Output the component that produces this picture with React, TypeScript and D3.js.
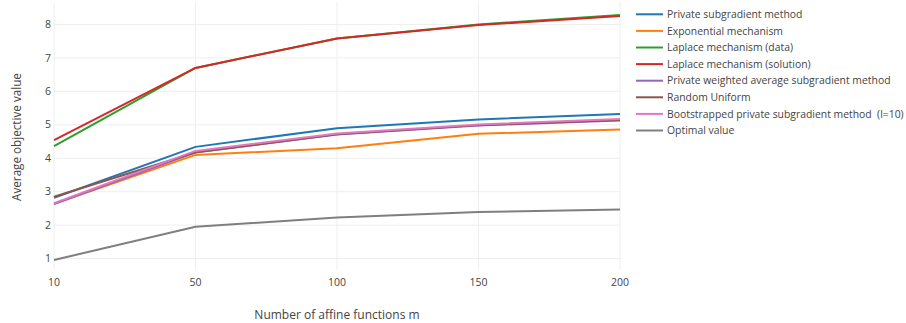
import React, { useEffect, useRef } from "react";
import * as d3 from "d3";

const categories = ["10", "50", "100", "150", "200"];
const seriesNames = [
  "Private subgradient method",
  "Exponential mechanism",
  "Laplace mechanism (data)",
  "Laplace mechanism (solution)",
  "Private weighted average subgradient method",
  "Random Uniform",
  "Bootstrapped private subgradient method  (l=10)",
  "Optimal value",
];
const privateSubgradient = [2.82, 4.34, 4.9, 5.16, 5.32];
const exponential = [2.64, 4.1, 4.3, 4.73, 4.86];
const laplaceData = [4.36, 6.7, 7.58, 8.0, 8.28];
const laplaceSolution = [4.54, 6.7, 7.58, 7.98, 8.25];
const weightedAverage = [2.63, 4.18, 4.71, 4.98, 5.13];
const randomUniform = [2.85, 4.17, 4.72, 4.99, 5.14];
const bootstrapped = [2.66, 4.22, 4.74, 5.01, 5.17];
const optimal = [0.96, 1.95, 2.23, 2.39, 2.47];
const colors = ["#1f77b4", "#ff7f0e", "#2ca02c", "#d62728", "#9467bd", "#8c564b", "#e377c2", "#7f7f7f"];
const yTicks = [1, 2, 3, 4, 5, 6, 7, 8];

const allSeries = [
  privateSubgradient,
  exponential,
  laplaceData,
  laplaceSolution,
  weightedAverage,
  randomUniform,
  bootstrapped,
  optimal,
];

export default function App() {
  const ref = useRef<SVGSVGElement>(null);
  useEffect(() => {
    const svg = d3.select(ref.current);
    svg.selectAll("*").remove();
    const left = 54, right = 620, top = 2, bottom = 270;
    const font = "'Open Sans', sans-serif";
    const x = d3.scalePoint<string>().domain(categories).range([left, right]);
    const y = d3.scaleLinear().domain([0.66, 8.67]).range([bottom, top]);

    const g = svg.append("g");
    g.selectAll(".hg").data(yTicks).enter().append("line")
      .attr("x1", left).attr("x2", right)
      .attr("y1", (d) => y(d)).attr("y2", (d) => y(d))
      .attr("stroke", "#eee").attr("stroke-width", 1);
    g.selectAll(".vg").data(categories).enter().append("line")
      .attr("x1", (d) => x(d)!).attr("x2", (d) => x(d)!)
      .attr("y1", top).attr("y2", bottom)
      .attr("stroke", "#eee").attr("stroke-width", 1);

    g.selectAll(".yt").data(yTicks).enter().append("text")
      .attr("x", left - 3).attr("y", (d) => y(d)).attr("dy", "0.35em")
      .attr("text-anchor", "end").attr("font-family", font).attr("font-size", 10.5)
      .attr("fill", "#444").text((d) => String(d));
    g.selectAll(".xt").data(categories).enter().append("text")
      .attr("x", (d) => x(d)!).attr("y", 286)
      .attr("text-anchor", "middle").attr("font-family", font).attr("font-size", 10.5)
      .attr("fill", "#444").text((d) => d);

    g.append("text").attr("x", (left + right) / 2).attr("y", 319)
      .attr("text-anchor", "middle").attr("font-family", font).attr("font-size", 12)
      .attr("fill", "#444").text("Number of affine functions m");
    g.append("text").attr("transform", `translate(21,137) rotate(-90)`)
      .attr("text-anchor", "middle").attr("font-family", font).attr("font-size", 11.7)
      .attr("fill", "#444").text("Average objective value");

    const line = d3.line<number>().x((_, i) => x(categories[i])!).y((d) => y(d));
    allSeries.forEach((s, i) => {
      g.append("path").attr("d", line(s)!).attr("fill", "none")
        .attr("stroke", colors[i]).attr("stroke-width", 2)
        .attr("stroke-linejoin", "round");
    });

    const lg = svg.append("g");
    seriesNames.forEach((name, i) => {
      const ly = 14.3 + i * 16.6;
      lg.append("line").attr("x1", 636).attr("x2", 663).attr("y1", ly).attr("y2", ly)
        .attr("stroke", colors[i]).attr("stroke-width", 2);
      lg.append("text").attr("x", 667).attr("y", ly).attr("dy", "0.35em")
        .attr("font-family", font).attr("font-size", 10.4).attr("fill", "#444")
        .style("white-space", "pre").text(name);
    });
  }, []);
  return (
    <svg ref={ref} width={906} height={323} style={{ position: "absolute", left: 0, top: 0, background: "#fff" }} />
  );
}
